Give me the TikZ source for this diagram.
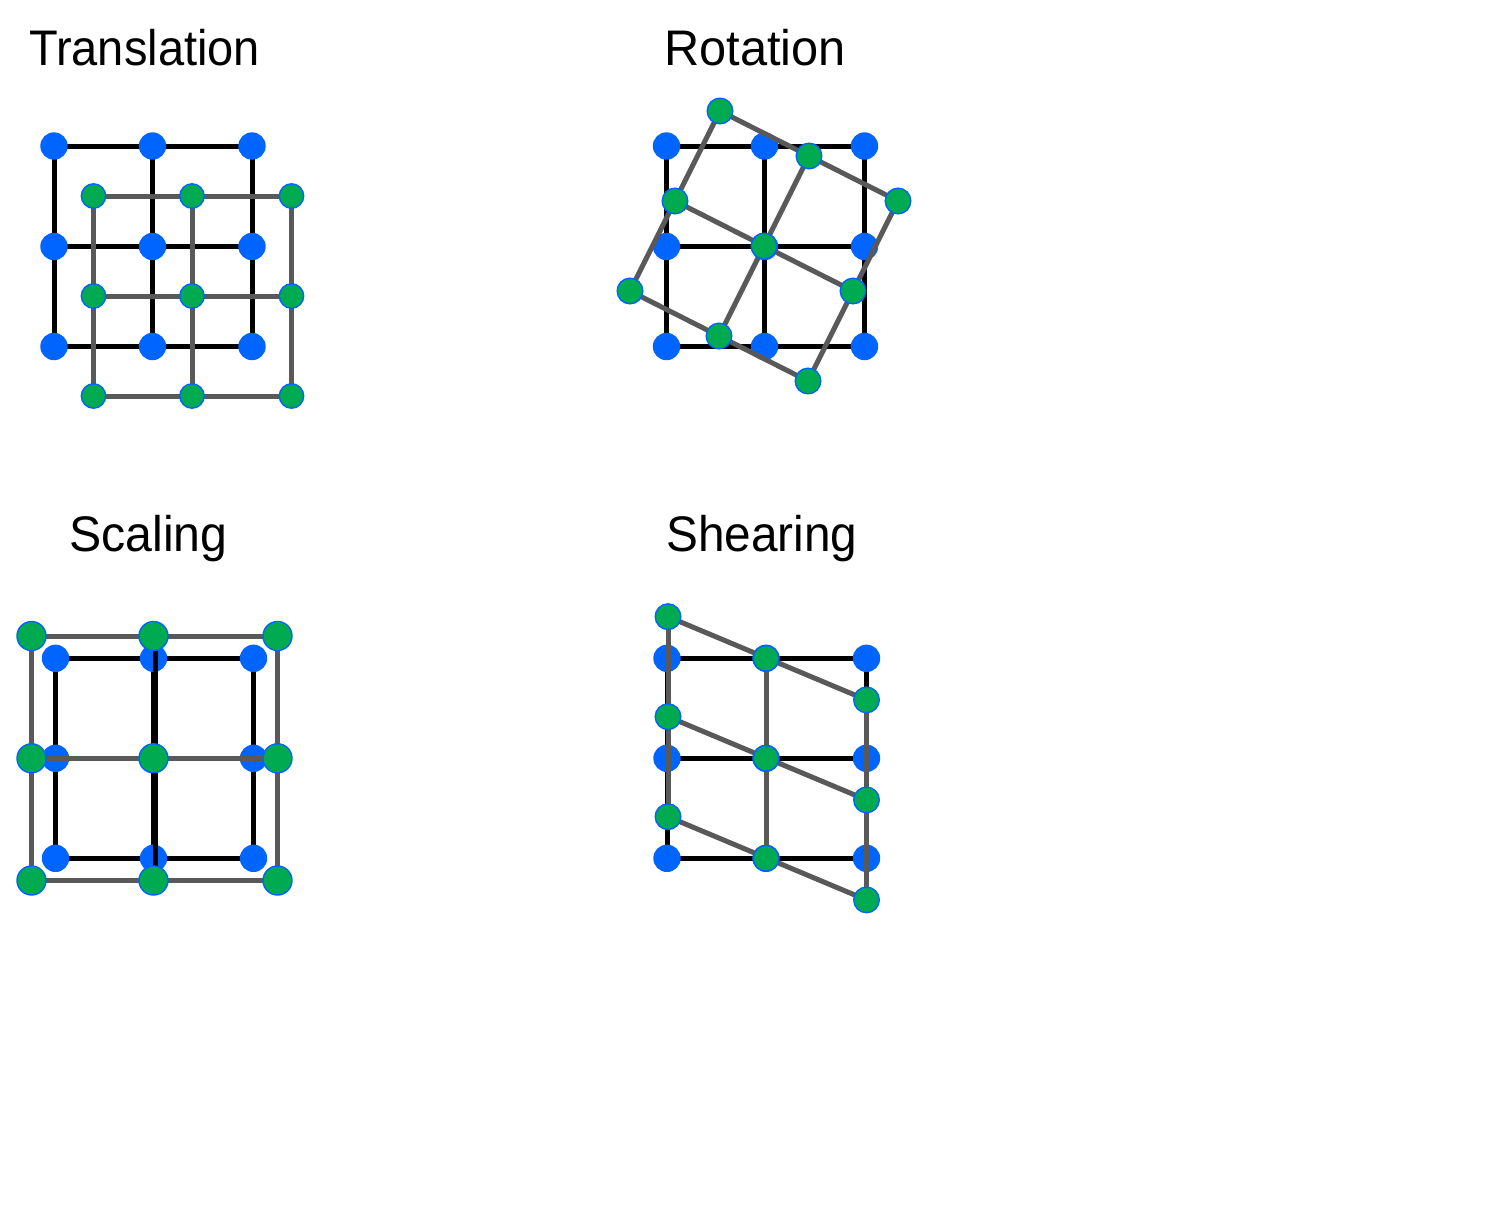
\documentclass[tikz,border=0pt]{standalone}
\usepackage{graphicx}
\usepackage{fontspec}
\newfontfamily\labelfont{Liberation Sans}
\definecolor{dotblue}{RGB}{0,100,255}
\definecolor{dotgreen}{RGB}{0,170,80}
\definecolor{linegray}{RGB}{89,89,89}
\tikzset{
  blackline/.style={draw=black,line width=5pt},
  grayline/.style={draw=linegray,line width=5pt},
  bluedot/.style={circle,fill=dotblue,draw=none,minimum size=27.4pt,inner sep=0pt},
  greendot/.style={circle,fill=dotgreen,draw=dotblue,line width=1.4pt,minimum size=24.4pt,inner sep=0pt},
  biggreendot/.style={greendot,minimum size=29pt},
  lbl/.style={anchor=base west,inner sep=0pt,font=\labelfont\fontsize{50}{60}\selectfont}
}
\begin{document}
\begin{tikzpicture}[x=1pt,y=-1pt]
\useasboundingbox[fill=white] (0,0) rectangle (1508,1216);

% ---------- labels ----------
\node[lbl] (ltrans) at (29,65.7) {\scalebox{0.94}[1]{Translation}};
\node[lbl] (lrot) at (664,65.7) {\scalebox{0.975}[1]{Rotation}};
\node[lbl] (lscale) at (69,551.7) {\scalebox{0.965}[1]{Scaling}};
\node[lbl] (lshear) at (666,551.7) {\scalebox{0.955}[1]{Shearing}};

% ---------- Translation ----------
\foreach \i/\x in {0/54,1/152.5,2/252}
  \foreach \j/\y in {0/146,1/246.5,2/346.5}
    \coordinate (tb\i\j) at (\x,\y);
\foreach \i/\x in {0/93.5,1/192,2/291.5}
  \foreach \j/\y in {0/196,1/296,2/396}
    \coordinate (tg\i\j) at (\x,\y);
\foreach \k in {0,1,2} {
  \draw[blackline] (tb0\k) -- (tb2\k);
  \draw[blackline] (tb\k0) -- (tb\k2);
}
\foreach \i in {0,1,2} \foreach \j in {0,1,2}
  \node[bluedot] (TB\i\j) at (tb\i\j) {};
\foreach \k in {0,1,2} {
  \draw[grayline] (tg0\k) -- (tg2\k);
  \draw[grayline] (tg\k0) -- (tg\k2);
}
\foreach \i in {0,1,2} \foreach \j in {0,1,2}
  \node[greendot] (TG\i\j) at (tg\i\j) {};

% ---------- Rotation ----------
\foreach \i/\x in {0/666.5,1/764.5,2/864.5}
  \foreach \j/\y in {0/146,1/246.5,2/346.5}
    \coordinate (rb\i\j) at (\x,\y);
\foreach \i in {0,1,2}
  \foreach \j in {0,1,2}
    \coordinate (rg\i\j) at ({764+(\i-1)*89+(\j-1)*45},{246+(\i-1)*45-(\j-1)*90});
\foreach \k in {0,1,2} {
  \draw[blackline] (rb0\k) -- (rb2\k);
  \draw[blackline] (rb\k0) -- (rb\k2);
}
\foreach \i in {0,1,2} \foreach \j in {0,1,2}
  \node[bluedot] (RB\i\j) at (rb\i\j) {};
\foreach \k in {0,1,2} {
  \draw[grayline] (rg0\k) -- (rg2\k);
  \draw[grayline] (rg\k0) -- (rg\k2);
}
\foreach \i in {0,1,2} \foreach \j in {0,1,2}
  \node[greendot,minimum size=25.6pt] (RG\i\j) at (rg\i\j) {};

% ---------- Scaling ----------
\foreach \i/\x in {0/55.5,1/153.5,2/253.5}
  \foreach \j/\y in {0/658.3,1/758.3,2/858.3}
    \coordinate (sb\i\j) at (\x,\y);
\foreach \i/\x in {0/31.5,1/153.5,2/277.5}
  \foreach \j/\y in {0/636,1/758.3,2/880.5}
    \coordinate (sg\i\j) at (\x,\y);
\foreach \k in {0,1,2} {
  \draw[blackline] (sb0\k) -- (sb2\k);
  \draw[blackline] (sb\k0) -- (sb\k2);
}
\foreach \i in {0,1,2} \foreach \j in {0,1,2}
  \node[bluedot] (SB\i\j) at (sb\i\j) {};
\draw[blackline] ([xshift=1.5pt]sg10) -- ([xshift=1.5pt]sg12);
\begin{scope}[yshift=-3pt]
  \draw[grayline] (sg00) -- (sg20) -- (sg22) -- (sg02) -- cycle;
  \draw[grayline] (sg01) -- (sg21);
\end{scope}
\foreach \i in {0,1,2} \foreach \j in {0,1,2}
  \node[biggreendot] (SG\i\j) at (sg\i\j) {};

% ---------- Shearing ----------
\foreach \i/\x in {0/667,1/766,2/866.5}
  \foreach \j/\y in {0/658.3,1/758.3,2/858.3}
    \coordinate (hb\i\j) at (\x,\y);
\foreach \i/\x in {0/668,1/766,2/866.5}
  \foreach \j/\y in {0/658.3,1/758.3,2/858.3}
    \coordinate (hg\i\j) at (\x,{\y+(\i-1)*41.6});
\foreach \k in {0,1,2} {
  \draw[blackline] (hb0\k) -- (hb2\k);
  \draw[blackline] (hb\k0) -- (hb\k2);
}
\foreach \i in {0,1,2} \foreach \j in {0,1,2}
  \node[bluedot] (HB\i\j) at (hb\i\j) {};
\foreach \k in {0,1,2} {
  \draw[grayline] (hg0\k) -- (hg2\k);
  \draw[grayline] (hg\k0) -- (hg\k2);
}
\foreach \i in {0,1,2} \foreach \j in {0,1,2}
  \node[greendot,minimum size=25.6pt] (HG\i\j) at (hg\i\j) {};
\end{tikzpicture}
\end{document}
